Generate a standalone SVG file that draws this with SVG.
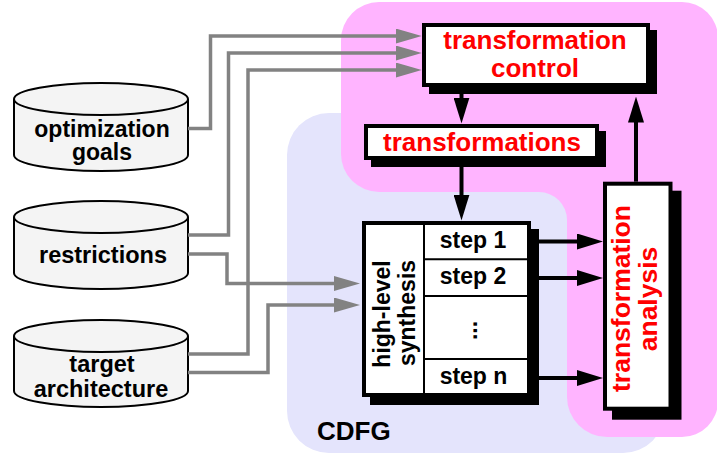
<svg xmlns="http://www.w3.org/2000/svg" width="717" height="454" viewBox="0 0 717 454">
  <defs>
    <style>
      text { font-family: "Liberation Sans", Arial, Helvetica, sans-serif; font-weight: bold; }
      .db { fill: #f4f4f4; stroke: #000; stroke-width: 2; }
      .dbt { font-size: 23.5px; fill: #000; text-anchor: middle; }
      .box { fill: #fff; stroke: #000; stroke-width: 4; }
      .shadow { fill: #000; }
      .red { font-size: 26px; fill: #ff0000; text-anchor: middle; }
      .blk { font-size: 23px; fill: #000; text-anchor: middle; }
      .div { stroke: #000; stroke-width: 2; fill: none; }
      .gray { fill: none; stroke: #828282; stroke-width: 3.5; }
      .black { fill: none; stroke: #000; stroke-width: 4; }
    </style>
    <marker id="ahGray" markerUnits="userSpaceOnUse" markerWidth="26" markerHeight="15" refX="16" refY="7.5" orient="auto">
      <path d="M0,0 L26,7.5 L0,15 Z" fill="#828282"/>
    </marker>
    <marker id="ahBlack" markerUnits="userSpaceOnUse" markerWidth="26" markerHeight="16" refX="16" refY="8" orient="auto">
      <path d="M0,0 L26,8 L0,16 Z" fill="#000"/>
    </marker>
  </defs>

  <!-- background regions -->
  <g id="cdfg-region">
    <rect x="287" y="113" width="378" height="340" rx="42" ry="42" fill="#e4e4fc"/>
    <text x="317" y="440" font-size="26" fill="#000">CDFG</text>
  </g>
  <path id="transform-region" fill="#ffb4ff"
        d="M379,2 H682 A36,36 0 0 1 718,38 V401 A36,36 0 0 1 682,437 H607 A40,40 0 0 1 567,397 V220 A28,28 0 0 0 539,192 H379 A38,38 0 0 1 341,154 V40 A38,38 0 0 1 379,2 Z"/>

  <!-- databases -->
  <g id="optimization-goals">
    <path class="db" d="M14,99 V155 A87,16 0 0 0 188,155 V99"/>
    <ellipse class="db" cx="101" cy="99" rx="87" ry="16"/>
    <text class="dbt" x="102" y="137" style="font-size:23px">optimization</text>
    <text class="dbt" x="102" y="160" style="font-size:23px">goals</text>
  </g>
  <g id="restrictions">
    <path class="db" d="M14,217 V273 A87,16 0 0 0 188,273 V217"/>
    <ellipse class="db" cx="101" cy="217" rx="87" ry="16"/>
    <text class="dbt" x="103" y="262.5">restrictions</text>
  </g>
  <g id="target-architecture">
    <path class="db" d="M14,336 V391 A87,16 0 0 0 188,391 V336"/>
    <ellipse class="db" cx="101" cy="336" rx="87" ry="16"/>
    <text class="dbt" x="102" y="372">target</text>
    <text class="dbt" x="101" y="396.5">architecture</text>
  </g>

  <!-- process boxes -->
  <g id="transformation-control">
    <rect class="shadow" x="429" y="30" width="228" height="64"/>
    <rect class="box" x="424" y="25" width="224" height="60"/>
    <text class="red" x="535" y="49">transformation</text>
    <text class="red" x="535" y="76.5">control</text>
  </g>
  <g id="transformations">
    <rect class="shadow" x="371" y="131" width="235" height="36"/>
    <rect class="box" x="366" y="126" width="231" height="32"/>
    <text class="red" x="482" y="150.5">transformations</text>
  </g>
  <g id="high-level-synthesis">
    <rect class="shadow" x="370" y="229" width="169" height="176"/>
    <rect class="box" x="364" y="223" width="165" height="172"/>
    <path class="div" d="M424,223 V395 M424,259.3 H529 M424,296 H529 M424,359 H529"/>
    <text class="blk" transform="translate(390,314) rotate(-90)">high-level</text>
    <text class="blk" transform="translate(415,313) rotate(-90)">synthesis</text>
    <text class="blk" x="473" y="248.3">step 1</text>
    <text class="blk" x="473" y="284">step 2</text>
    <text class="blk" transform="translate(476.5,330.5) rotate(-90)" font-size="36">...</text>
    <text class="blk" x="473.5" y="384.3">step n</text>
  </g>
  <g id="transformation-analysis">
    <rect class="shadow" x="612" y="190.7" width="69.5" height="229"/>
    <rect class="box" x="605" y="183.7" width="65.5" height="225"/>
    <text class="red" transform="translate(630,298.5) rotate(-90)" style="font-size:26.5px">transformation</text>
    <text class="red" transform="translate(656.5,299) rotate(-90)" style="font-size:26.5px">analysis</text>
  </g>

  <!-- connectors -->
  <g id="connectors">
    <path class="gray" marker-end="url(#ahGray)" d="M188,128.5 H210.5 V36 H411.7"/>
    <path class="gray" marker-end="url(#ahGray)" d="M188,235 H228.5 V53 H411.7"/>
    <path class="gray" marker-end="url(#ahGray)" d="M188,354 H248 V70 H411.7"/>
    <path class="gray" marker-end="url(#ahGray)" d="M188,254 H227 V283.5 H350"/>
    <path class="gray" marker-end="url(#ahGray)" d="M188,372.5 H268 V305 H350"/>

    <path class="black" marker-end="url(#ahBlack)" d="M461.5,94 V113.5"/>
    <path class="black" marker-end="url(#ahBlack)" d="M461.5,167 V210.5"/>
    <path class="black" marker-end="url(#ahBlack)" d="M636,181.7 V106.5"/>
    <path class="black" marker-end="url(#ahBlack)" d="M538,241.5 H593"/>
    <path class="black" marker-end="url(#ahBlack)" d="M538,278 H593"/>
    <path class="black" marker-end="url(#ahBlack)" d="M538,378 H593"/>
  </g>
</svg>
